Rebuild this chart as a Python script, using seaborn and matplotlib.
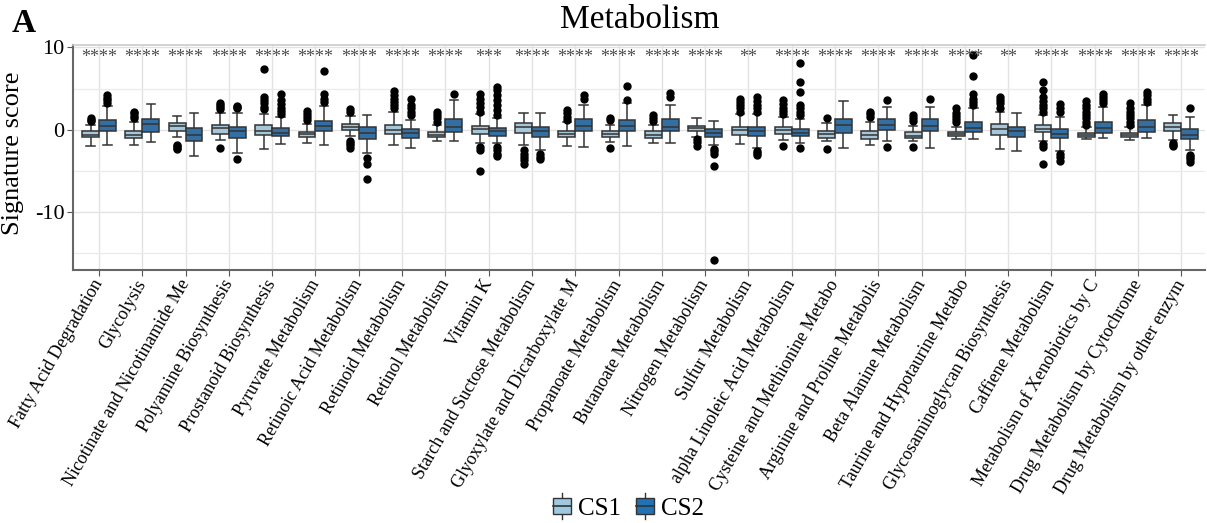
import numpy as np
import pandas as pd
import matplotlib
matplotlib.use("Agg")
import matplotlib.pyplot as plt
import seaborn as sns
from matplotlib.patches import Patch, Rectangle
from matplotlib.lines import Line2D
from matplotlib.legend_handler import HandlerBase

pathways = [
    "Fatty Acid Degradation", "Glycolysis", "Nicotinate and Nicotinamide Me",
    "Polyamine Biosynthesis", "Prostanoid Biosynthesis", "Pyruvate Metabolism",
    "Retinoic Acid Metabolism", "Retinoid Metabolism", "Retinol Metabolism",
    "Vitamin K", "Starch and Suctose Metabolism", "Glyoxylate and Dicarboxylate M",
    "Propanoate Metabolism", "Butanoate Metabolism", "Nitrogen Metabolism",
    "Sulfur Metabolism", "alpha Linoleic Acid Metabolism", "Cysteine and Methionine Metabo",
    "Arginine and Proline Metabolis", "Beta Alanine Metabolism", "Taurine and Hypotaurine Metabo",
    "Glycosaminoglycan Biosynthesis", "Caffiene Metabolism", "Metabolism of Xenobiotics by C",
    "Drug Metabolism by Cytochrome", "Drug Metabolism by other enzym",
]
signif = ["****", "****", "****", "****", "****", "****", "****", "****", "****", "***",
          "****", "****", "****", "****", "****", "**", "****", "****", "****", "****",
          "****", "**", "****", "****", "****", "****"]

# box summaries: whisker low, Q1, median, Q3, whisker high
cs1_lo  = [-2.0, -1.8, -0.9, -1.2, -2.3, -1.6, -0.8, -1.9, -1.4, -1.6, -1.8, -2.0, -1.5,
           -1.6, -0.9, -1.7, -1.2, -1.4, -1.9, -1.4, -1.1, -2.3, -1.3, -1.1, -1.2, -1.2]
cs1_q1  = [-0.93, -1.0, -0.2, -0.5, -0.6, -0.9, 0.0, -0.5, -0.9, -0.5, -0.4, -0.9, -0.9,
           -1.0, -0.1, -0.6, -0.5, -0.95, -1.1, -1.0, -0.8, -0.6, -0.3, -0.9, -0.9, -0.1]
cs1_med = [-0.6, -0.6, 0.5, 0.2, -0.1, -0.5, 0.4, 0.0, -0.6, 0.1, 0.3, -0.55, -0.5,
           -0.6, 0.2, 0.0, 0.0, -0.5, -0.6, -0.7, -0.5, 0.1, 0.1, -0.65, -0.65, 0.4]
cs1_q3  = [-0.2, -0.1, 0.85, 0.6, 0.6, -0.25, 0.7, 0.6, -0.3, 0.5, 0.8, -0.15, -0.1,
           -0.2, 0.5, 0.4, 0.4, -0.15, -0.1, -0.3, -0.3, 0.7, 0.6, -0.4, -0.4, 0.8]
cs1_hi  = [0.6, 1.0, 1.7, 2.1, 1.9, 0.7, 1.7, 2.2, 0.55, 1.9, 2.1, 0.9, 0.6,
           0.6, 1.4, 1.9, 1.5, 0.8, 1.0, 0.5, 0.4, 2.2, 1.8, 0.3, 0.3, 1.8]
cs1_out = [
    [1.1, 1.25, 1.4], [1.4, 1.7, 2.0, 2.2], [-1.85, -2.0, -2.2, -2.35],
    [-2.2, 2.5, 2.8, 3.0, 3.3], [2.5, 2.8, 3.2, 3.6, 4.0, 7.4], [1.2, 1.5, 1.9, 2.3],
    [-1.3, -1.6, -1.9, -2.2, 2.2, 2.5], [2.6, 3.0, 3.4, 3.8, 4.2, 4.7], [1.0, 1.4, 1.8, 2.2],
    [-2.1, -2.4, -5.0, 2.2, 2.8, 3.3, 3.8, 4.3], [-2.4, -2.9, -3.3, -3.7, -4.2],
    [1.2, 1.6, 2.0, 2.4], [-2.2, 1.2, 1.45], [1.1, 1.4, 1.8], [-1.1, -1.5, -2.0],
    [2.2, 2.6, 3.0, 3.4, 3.8], [-2.0, 1.9, 2.3, 2.7, 3.1, 3.6], [-2.3, 1.4],
    [1.6, 1.9, 2.2], [-2.1, 1.1, 1.4, 1.8], [0.9, 1.3, 1.7, 2.1, 2.6], [2.7, 3.2, 3.6, 4.0],
    [-1.7, -2.1, -4.1, 2.2, 2.6, 3.0, 3.5, 4.0, 4.8, 5.8],
    [0.6, 1.0, 1.4, 1.8, 2.2, 2.6, 3.0, 3.5], [0.6, 1.0, 1.4, 1.8, 2.2, 2.7, 3.2],
    [-1.6, -1.8, -2.0],
]

cs2_lo  = [-1.8, -1.5, -3.2, -2.8, -1.7, -1.9, -2.8, -2.2, -1.4, -1.6, -2.4, -2.1, -2.0,
           -1.6, -1.8, -2.2, -1.6, -2.2, -1.4, -2.2, -1.1, -2.6, -2.6, -1.0, -1.0, -2.5]
cs2_q1  = [-0.15, -0.3, -1.4, -1.05, -0.8, -0.2, -1.1, -1.0, -0.3, -0.7, -0.9, -0.2, -0.2,
           -0.2, -0.85, -0.8, -0.8, -0.4, 0.0, -0.2, -0.3, -0.9, -1.0, -0.4, -0.25, -1.1]
cs2_med = [0.5, 0.7, -0.6, -0.1, -0.4, 0.5, -0.4, -0.4, 0.4, -0.1, -0.2, 0.5, 0.5,
           0.4, -0.4, -0.2, -0.4, 0.6, 0.6, 0.5, 0.2, -0.1, -0.5, 0.2, 0.3, -0.65]
cs2_q3  = [1.2, 1.3, 0.2, 0.35, 0.2, 1.1, 0.3, 0.1, 1.3, 0.2, 0.4, 1.3, 1.2,
           1.3, 0.05, 0.3, 0.1, 1.3, 1.3, 1.3, 1.0, 0.4, 0.1, 1.0, 1.15, 0.1]
cs2_hi  = [2.9, 3.1, 2.0, 2.0, 1.6, 2.9, 1.8, 1.2, 3.6, 1.4, 2.1, 3.0, 3.2,
           3.0, 1.1, 1.9, 1.3, 3.5, 2.8, 2.8, 2.6, 2.0, 1.6, 2.8, 3.0, 1.6]
cs2_out = [
    [3.3, 3.6, 3.9, 4.2], [], [], [-3.6, 2.6, 2.75, 2.9], [1.9, 2.3, 2.7, 3.1, 3.6, 4.4],
    [3.4, 3.8, 4.4, 7.2], [-3.4, -4.1, -6.0], [1.8, 2.2, 2.6, 3.0, 3.8], [4.4],
    [-2.1, -2.5, -2.9, -3.2, 1.8, 2.4, 3.0, 3.6, 4.2, 4.8, 5.2], [-2.9, -3.3, -3.6],
    [3.8, 4.2], [3.6, 5.3], [4.0, 4.5], [-2.35, -2.6, -2.9, -4.4, -15.8],
    [-2.55, -2.8, -3.1, 2.2, 2.6, 3.0, 3.5, 4.0], [-2.2, 1.8, 2.2, 2.6, 3.0, 4.6, 5.8, 8.1],
    [], [-2.1, 3.6], [3.7], [3.0, 3.4, 3.8, 4.4, 6.5, 9.1], [],
    [-2.9, -3.3, -3.8, 2.2, 2.6, 3.1], [3.2, 3.6, 4.0, 4.4], [3.4, 3.8, 4.2, 4.6],
    [-3.0, -3.3, -3.6, -3.9, 2.6],
]

groups = ["CS1", "CS2"]
colors = {"CS1": "#9ecae1", "CS2": "#2171b5"}

# rebuild per-box samples whose quartiles match the summaries above
rows = []
for g, lo, q1, med, q3, hi, out in [
        ("CS1", cs1_lo, cs1_q1, cs1_med, cs1_q3, cs1_hi, cs1_out),
        ("CS2", cs2_lo, cs2_q1, cs2_med, cs2_q3, cs2_hi, cs2_out)]:
    for i, p in enumerate(pathways):
        vals = [lo[i]] + [q1[i]] * 30 + [med[i]] * 30 + [q3[i]] * 30 + [hi[i]] + out[i]
        for v in vals:
            rows.append((p, g, v))
df = pd.DataFrame(rows, columns=["pathway", "group", "score"])

plt.rcParams["font.family"] = ["Liberation Serif", "DejaVu Serif"]
plt.rcParams["axes.unicode_minus"] = False

fig = plt.figure(figsize=(12.07, 5.23), dpi=100)
ax = fig.add_axes([0.0605, 0.484, 0.938, 0.43])

sns.boxplot(data=df, x="pathway", y="score", hue="group", order=pathways,
            hue_order=groups, palette=colors, width=0.78, gap=0.0,
            linecolor="#333333", linewidth=1.1, fliersize=5,
            flierprops=dict(marker="o", markerfacecolor="black",
                            markeredgecolor="black"),
            legend=False, ax=ax)

for i, s in enumerate(signif):
    ax.text(i, 8.8, s, ha="center", va="center", color="#4d4d4d", fontsize=13)

ax.set_xlim(-0.6, len(pathways) - 0.45)
ax.set_ylim(-17.0, 10.3)
ax.set_yticks([-10, 0, 10])
ax.set_yticks([-15, -5, 5], minor=True)
ax.tick_params(axis="y", which="minor", length=0)
ax.set_xticks(range(len(pathways)))
ax.set_xticklabels(pathways, rotation=60, ha="right", va="center",
                   rotation_mode="anchor", fontsize=13)
ax.tick_params(axis="y", labelsize=16, colors="#555555", labelcolor="black",
               length=4, pad=2)
ax.tick_params(axis="x", colors="#555555", labelcolor="black", length=4, pad=4)
ax.grid(True, which="major", color="#e3e3e3", linewidth=1.0)
ax.grid(True, which="minor", axis="y", color="#ebebeb", linewidth=0.9)
ax.set_axisbelow(True)
ax.set_xlabel("")
ax.set_ylabel("Signature score", fontsize=19)
ax.yaxis.set_label_coords(-0.043, 0.52)

for side in ["left", "bottom"]:
    ax.spines[side].set_color("#666666")
    ax.spines[side].set_linewidth(1.5)
ax.spines["top"].set_color("#cccccc")
ax.spines["top"].set_linewidth(1.2)
ax.spines["right"].set_visible(False)


class BoxHandler(HandlerBase):
    def create_artists(self, legend, orig_handle, xdescent, ydescent,
                       width, height, fontsize, trans):
        fc = orig_handle.get_facecolor()
        bw, bh = width * 0.8, height * 0.95
        x0 = xdescent + (width - bw) / 2
        y0 = -ydescent + (height - bh) / 2
        xc = x0 + bw / 2
        box = Rectangle((x0, y0), bw, bh, facecolor=fc, edgecolor="#333333",
                        linewidth=1.0, transform=trans)
        med = Line2D([x0, x0 + bw], [y0 + bh / 2] * 2, color="#333333",
                     linewidth=1.2, transform=trans)
        wt = Line2D([xc, xc], [y0 + bh, y0 + bh + height * 0.25], color="#333333",
                    linewidth=1.0, transform=trans)
        wb = Line2D([xc, xc], [y0, y0 - height * 0.25], color="#333333",
                    linewidth=1.0, transform=trans)
        return [wt, wb, box, med]


handles = [Patch(facecolor=colors[g], label=g) for g in groups]
fig.legend(handles=handles, labels=groups, loc="center", bbox_to_anchor=(0.52, 0.028),
           ncol=2, frameon=False, fontsize=18, handler_map={Patch: BoxHandler()},
           handlelength=0.9, handletextpad=0.2, columnspacing=0.5)

fig.text(0.53, 0.962, "Metabolism", ha="center", va="center", fontsize=24)
fig.text(0.01, 0.955, "A", ha="left", va="center", fontsize=24, fontweight="bold")

fig.savefig("out.png", dpi=100)
